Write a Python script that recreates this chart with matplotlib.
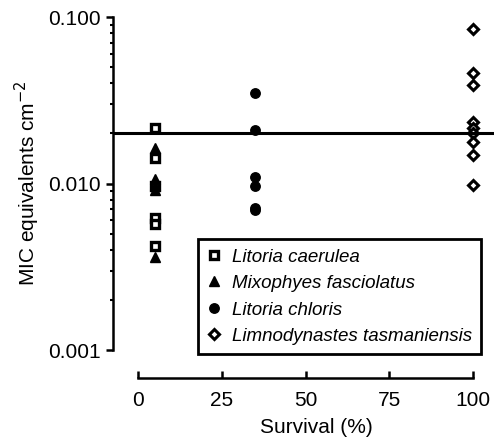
import matplotlib.pyplot as plt
from matplotlib.ticker import FixedLocator, NullFormatter

# MIC equivalents per cm^2 by survival (%)
caerulea_x = [5, 5, 5, 5, 5, 5]
caerulea_y = [0.0216, 0.0143, 0.0097, 0.0062, 0.0057, 0.0042]
mixophyes_x = [5, 5, 5, 5, 5]
mixophyes_y = [0.0164, 0.0106, 0.0098, 0.0092, 0.0036]
chloris_x = [35, 35, 35, 35, 35, 35]
chloris_y = [0.0351, 0.0209, 0.0110, 0.0097, 0.0071, 0.0069]
limno_x = [100, 100, 100, 100, 100, 100, 100, 100, 100]
limno_y = [0.0847, 0.0459, 0.0390, 0.0235, 0.0214, 0.0200, 0.0178, 0.0148, 0.0098]
threshold = 0.02
x_ticks = [0, 25, 50, 75, 100]
y_ticks = [0.001, 0.01, 0.1]
y_tick_labels = ['0.001', '0.010', '0.100']

plt.rcParams['font.family'] = ['Liberation Sans', 'DejaVu Sans']
plt.rcParams['font.size'] = 15

W, H = 494, 440
fig = plt.figure(figsize=(W / 100, H / 100), dpi=100)

# axes: left at 113 px, 0.1 at 17 px, 0.001 at 350 px, extends past right edge
x0_px, x100_px = 138, 473
ppu = (x100_px - x0_px) / 100
left_px, right_px = 113, 520
ax = fig.add_axes([left_px / W, 1 - 350 / H, (right_px - left_px) / W, (350 - 17) / H])
ax.set_xlim((left_px - x0_px) / ppu, (right_px - x0_px) / ppu)
ax.set_yscale('log')
ax.set_ylim(0.001, 0.1)

ax.plot(caerulea_x, caerulea_y, 's', ms=6, mfc='white', mec='black', mew=2.4,
        label='Litoria caerulea', clip_on=False)
ax.plot(mixophyes_x, mixophyes_y, '^', ms=7, color='black',
        label='Mixophyes fasciolatus', clip_on=False)
ax.plot(chloris_x, chloris_y, 'o', ms=6.8, color='black',
        label='Litoria chloris', clip_on=False)
ax.plot(limno_x, limno_y, 'D', ms=5, mfc='white', mec='black', mew=2.2,
        label='Limnodynastes tasmaniensis', clip_on=False)

ax.axhline(threshold, color='black', lw=2.2)

for s in ['top', 'right']:
    ax.spines[s].set_visible(False)
ax.spines['left'].set_linewidth(1.8)
ax.spines['bottom'].set_linewidth(1.8)
ax.spines['left'].set_bounds(0.001, 0.1)
ax.spines['bottom'].set_bounds(0, 100)
ax.spines['bottom'].set_position(('outward', 28 * 72 / 100))

ax.xaxis.set_major_locator(FixedLocator(x_ticks))
ax.tick_params(axis='x', direction='in', length=5, width=1.8, pad=9)
ax.yaxis.set_major_locator(FixedLocator(y_ticks))
ax.set_yticklabels(y_tick_labels)
ax.yaxis.set_minor_formatter(NullFormatter())
ax.tick_params(axis='y', which='major', direction='out', length=5, width=1.8, pad=4)
ax.tick_params(axis='y', which='minor', direction='out', length=2.5, width=1.5)

ax.set_xlabel('Survival (%)', labelpad=6)
ax.set_ylabel('MIC equivalents cm$^{-2}$', labelpad=4)

leg = ax.legend(loc='upper left', bbox_to_anchor=(198 / W, 1 - 239 / H),
                bbox_transform=fig.transFigure, frameon=True, fancybox=False,
                edgecolor='black', borderaxespad=0, handlelength=0.7,
                handletextpad=0.6, labelspacing=0.5, borderpad=0.5,
                prop={'style': 'italic', 'size': 13.5})
leg.get_frame().set_linewidth(2)
leg.get_frame().set_alpha(1)

fig.savefig('out.png', dpi=100)
